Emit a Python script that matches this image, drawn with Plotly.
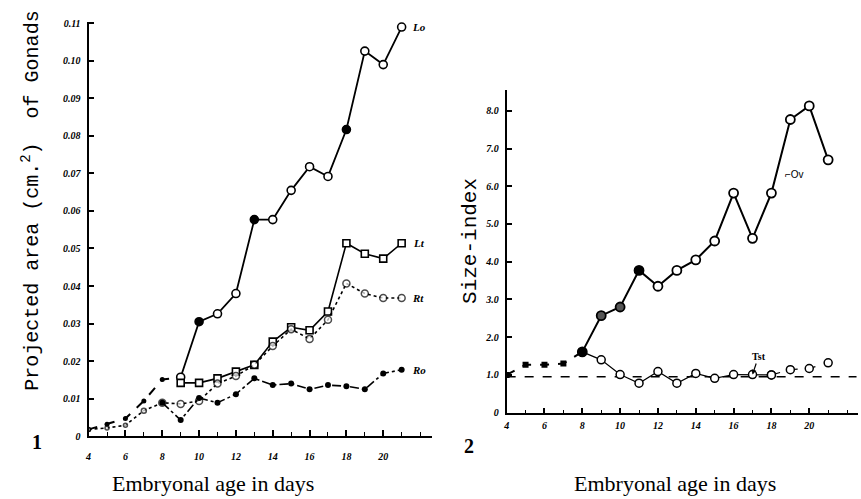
import plotly.graph_objects as go

# ---------------- data ----------------
days = list(range(4, 22))
lo = [0.0018, 0.0032, 0.0047, 0.0094, 0.0151, 0.0157, 0.0305, 0.0326, 0.0380, 0.0577,
      0.0577, 0.0655, 0.0718, 0.0692, 0.0817, 0.1026, 0.0990, 0.1090]
lt = [0.0018, 0.0032, 0.0047, 0.0094, 0.0151, 0.0142, 0.0142, 0.0154, 0.0172, 0.0190,
      0.0252, 0.0290, 0.0282, 0.0332, 0.0514, 0.0486, 0.0473, 0.0514]
rt = [0.0018, 0.0022, 0.0029, 0.0068, 0.0089, 0.0086, 0.0094, 0.0140, 0.0160, 0.0190,
      0.0240, 0.0285, 0.0259, 0.0310, 0.0407, 0.0380, 0.0368, 0.0368]
ro = [0.0018, 0.0022, 0.0029, 0.0068, 0.0089, 0.0043, 0.0102, 0.0089, 0.0112, 0.0154,
      0.0136, 0.0140, 0.0125, 0.0136, 0.0133, 0.0125, 0.0167, 0.0177]

ov = [1.00, 1.27, 1.27, 1.30, 1.61, 2.57, 2.80, 3.77, 3.35, 3.77, 4.05, 4.55, 5.82,
      4.62, 5.82, 7.77, 8.13, 6.70]
tst_days = list(range(8, 22))
tst = [1.61, 1.40, 1.01, 0.78, 1.09, 0.78, 1.04, 0.91, 1.01, 1.01, 1.00, 1.14, 1.17, 1.32]
ref_days = [4, 22.5]
ref_level = [0.95, 0.95]

y1_ticks = [0, 0.01, 0.02, 0.03, 0.04, 0.05, 0.06, 0.07, 0.08, 0.09, 0.10, 0.11]
y1_text = ["0", "0.01", "0.02", "0.03", "0.04", "0.05", "0.06", "0.07", "0.08", "0.09", "0.10", "0.11"]
y2_ticks = [0, 1, 2, 3, 4, 5, 6, 7, 8]
y2_text = ["0", "1.0", "2.0", "3.0", "4.0", "5.0", "6.0", "7.0", "8.0"]
x_ticks = [4, 6, 8, 10, 12, 14, 16, 18, 20]
x_text = ["4", "6", "8", "10", "12", "14", "16", "18", "20"]

W, H = 861, 499
K = "black"
fig = go.Figure()

def px_x(p):
    return p / W

def px_y(p):
    return (H - p) / H

# ---------------- panel 1 ----------------
fill_lo = ["black"] * 5 + ["white", "black", "white", "white", "black", "white", "white",
                            "white", "white", "black", "white", "white", "white"]
fig.add_trace(go.Scatter(x=days[:6], y=lo[:6], mode="lines+markers", xaxis="x", yaxis="y",
                         line=dict(color=K, width=2, dash="dash"),
                         marker=dict(size=5, color="black"), showlegend=False))
fig.add_trace(go.Scatter(x=days[5:], y=lo[5:], mode="lines+markers", xaxis="x", yaxis="y",
                         line=dict(color=K, width=1.8),
                         marker=dict(size=8, color=fill_lo[5:], line=dict(color=K, width=1.6)),
                         showlegend=False))
fig.add_trace(go.Scatter(x=days[5:], y=lt[5:], mode="lines+markers", xaxis="x", yaxis="y",
                         line=dict(color=K, width=1.6),
                         marker=dict(size=7, symbol="square", color="white", line=dict(color=K, width=1.6)),
                         showlegend=False))
fig.add_trace(go.Scatter(x=days, y=rt, mode="lines+markers", xaxis="x", yaxis="y",
                         line=dict(color=K, width=1.6, dash="dot"),
                         marker=dict(size=[4, 4, 4, 5] + [7] * 14, color="white", line=dict(color=K, width=1.5)),
                         showlegend=False))
fig.add_trace(go.Scatter(x=days[4:], y=ro[4:], mode="lines+markers", xaxis="x", yaxis="y",
                         line=dict(color=K, width=1.6, dash="dashdot"),
                         marker=dict(size=6, color="black"), showlegend=False))

# ---------------- panel 2 ----------------
fill_ov = ["black"] * 5 + ["#555", "#555", "black"] + ["white"] * 10
fig.add_trace(go.Scatter(x=ref_days, y=ref_level, mode="lines", xaxis="x2", yaxis="y2",
                         line=dict(color=K, width=1.5, dash="dash"), showlegend=False))
fig.add_trace(go.Scatter(x=days[:5], y=ov[:5], mode="lines+markers", xaxis="x2", yaxis="y2",
                         line=dict(color=K, width=2, dash="dash"),
                         marker=dict(size=6, symbol="square", color="black"), showlegend=False))
fig.add_trace(go.Scatter(x=tst_days[:11], y=tst[:11], mode="lines+markers", xaxis="x2", yaxis="y2",
                         line=dict(color=K, width=1.2),
                         marker=dict(size=8, color="white", line=dict(color=K, width=1.5)),
                         showlegend=False))
fig.add_trace(go.Scatter(x=tst_days[10:], y=tst[10:], mode="lines+markers", xaxis="x2", yaxis="y2",
                         line=dict(color=K, width=1.2, dash="dash"),
                         marker=dict(size=8, color="white", line=dict(color=K, width=1.5)),
                         showlegend=False))
fig.add_trace(go.Scatter(x=days[4:], y=ov[4:], mode="lines+markers", xaxis="x2", yaxis="y2",
                         line=dict(color=K, width=2),
                         marker=dict(size=9, color=fill_ov[4:], line=dict(color=K, width=1.8)),
                         showlegend=False))

tickfont = dict(family="Liberation Serif", size=10, color=K, weight="bold", style="italic")
common_ax = dict(showgrid=False, zeroline=False, showline=True, linecolor=K, linewidth=2,
                 ticks="inside", tickcolor=K, tickwidth=1.5, tickfont=tickfont)

fig.update_layout(
    width=W, height=H, margin=dict(l=0, r=0, t=0, b=0),
    paper_bgcolor="white", plot_bgcolor="white", showlegend=False,
    xaxis=dict(domain=[px_x(85), px_x(430)], range=[4, 4 + (430 - 85) / 18.5], anchor="y",
               tickvals=x_ticks, ticktext=x_text, ticklen=6, ticklabelstandoff=10,
               minor=dict(dtick=1, tick0=4, ticks="inside", ticklen=4, tickcolor=K, tickwidth=1),
               **common_ax),
    yaxis=dict(domain=[px_y(441), px_y(18)], range=[0, (441 - 18) / 3830], anchor="x",
               tickvals=y1_ticks, ticktext=y1_text, ticklen=5, ticklabelstandoff=4,
               **common_ax),
    xaxis2=dict(domain=[px_x(505), px_x(858)], range=[4, 4 + (858 - 505) / 19.0], anchor="y2",
                tickvals=x_ticks, ticktext=x_text, ticklen=5, ticklabelstandoff=2,
                minor=dict(dtick=1, tick0=4, ticks="inside", ticklen=3, tickcolor=K, tickwidth=1),
                **common_ax),
    yaxis2=dict(domain=[px_y(417), px_y(88)], range=[0, (417 - 88) / 38.5], anchor="x2",
                tickvals=y2_ticks, ticktext=y2_text, ticklen=5, ticklabelstandoff=4,
                **common_ax),
)

ann = []

def txt(text, x, y, font, angle=0):
    return dict(text=text, x=px_x(x), y=px_y(y), xref="paper", yref="paper",
                xanchor="center", yanchor="middle", showarrow=False, textangle=angle, font=font)

ann.append(txt("Projected area (cm.<sup>2</sup>)  of Gonads", 27, 201,
               dict(family="Liberation Mono", size=20, color=K), -90))
ann.append(txt("Size-index", 468, 242, dict(family="Liberation Mono", size=21, color=K), -90))
serif = dict(family="Liberation Serif", size=22, color=K)
ann.append(txt("Embryonal age in days", 210, 489, serif))
ann.append(txt("Embryonal age in days", 674, 489, serif))
big = dict(family="Liberation Serif", size=20, color=K, weight="bold")
ann.append(txt("1", 33, 447, big))
ann.append(txt("2", 467, 451, big))

lab = dict(family="Liberation Serif", size=11, color=K, weight="bold", style="italic")
for name, series, shift in [("Lo", lo, 8), ("Lt", lt, 9), ("Rt", rt, 8), ("Ro", ro, 8)]:
    ann.append(dict(text=name, x=days[-1], y=series[-1], xref="x", yref="y", xanchor="left",
                    yanchor="middle", xshift=shift, showarrow=False, font=lab))
ann.append(dict(text="⌐Ov", x=18.6, y=6.3, xref="x2", yref="y2", xanchor="left", yanchor="middle",
                showarrow=False, font=dict(family="Liberation Sans", size=10, color=K)))
ann.append(dict(text="Tst", x=tst_days[9], y=tst[9], xref="x2", yref="y2", ax=6, ay=-18,
                showarrow=True, arrowhead=2, arrowsize=0.8, arrowwidth=1.2, arrowcolor=K,
                font=dict(family="Liberation Serif", size=10, color=K, weight="bold")))
fig.update_layout(annotations=ann)

fig.write_html("out.html")
